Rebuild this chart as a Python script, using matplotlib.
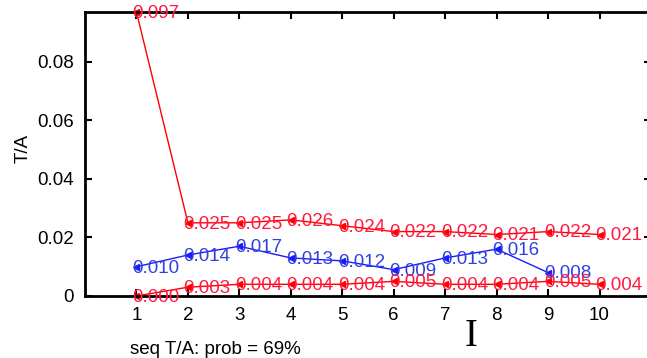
import matplotlib
matplotlib.use("Agg")
import matplotlib.pyplot as plt

plt.rcParams['font.family'] = ['Liberation Sans', 'DejaVu Sans']

x_upper = [1, 2, 3, 4, 5, 6, 7, 8, 9, 10]
red_upper = [0.097, 0.025, 0.025, 0.026, 0.024, 0.022, 0.022, 0.021, 0.022, 0.021]
x_blue = [1, 2, 3, 4, 5, 6, 7, 8, 9]
blue_mid = [0.010, 0.014, 0.017, 0.013, 0.012, 0.009, 0.013, 0.016, 0.008]
x_lower = [1, 2, 3, 4, 5, 6, 7, 8, 9, 10]
red_lower = [0.000, 0.003, 0.004, 0.004, 0.004, 0.005, 0.004, 0.004, 0.005, 0.004]

xticks = [1, 2, 3, 4, 5, 6, 7, 8, 9, 10]
yticks = [0, 0.02, 0.04, 0.06, 0.08]
yticklabels = ['0', '0.02', '0.04', '0.06', '0.08']

fig = plt.figure(figsize=(6.47, 3.58), dpi=100)
ax = fig.add_axes([85/647, 1-296/358, (651-85)/647, (296-12)/358])

series = [(x_upper, red_upper, '#ff0000', '#ff1a40'),
          (x_blue, blue_mid, '#1a1aff', '#3040e0'),
          (x_lower, red_lower, '#ff0000', '#ff1a40')]
for xs, ys, lc, tc in series:
    ax.plot(xs, ys, color=lc, lw=1.0, marker='<', ms=4, clip_on=False)
    for xv, yv in zip(xs, ys):
        ax.annotate(f"{yv:.3f}", (xv, yv), xytext=(-3, -1),
                    textcoords='offset points', color=tc, fontsize=13.5,
                    ha='left', va='center', annotation_clip=False)

ax.set_xlim(0, 11)
ax.set_ylim(0, 0.097)
ax.set_xticks(xticks)
ax.set_xticklabels([str(t) for t in xticks])
ax.set_yticks(yticks)
ax.set_yticklabels(yticklabels)
ax.tick_params(direction='in', length=5, width=1.5, labelsize=13.5,
               top=True, right=True, pad=8, colors='black')
for s in ax.spines.values():
    s.set_linewidth(2)

fig.text(23/647, 1-148/358, 'T/A', rotation=90, fontsize=13.5,
         ha='center', va='center')
fig.text(215/647, 1-349/358, 'seq T/A: prob = 69%', fontsize=13.5,
         ha='center', va='center')
fig.text(471/647, 1-337/358, 'I', fontsize=28, family='Liberation Serif',
         ha='center', va='center')

fig.savefig('out.png', dpi=100)
